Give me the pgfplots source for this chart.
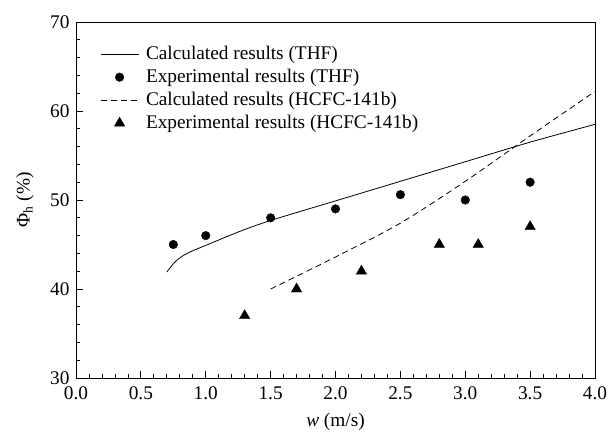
\documentclass[border=0pt]{standalone}
\usepackage{pgfplots}
\pgfplotsset{compat=1.18}
\usepackage{fontspec}
\setmainfont{Liberation Serif}
\newcommand{\bigf}{\fontsize{19.3}{23}\selectfont}
\begin{document}
\begin{tikzpicture}
\begin{axis}[
  width=519pt, height=356pt, scale only axis,
  xmin=0, xmax=4, ymin=30, ymax=70,
  xtick={0,0.5,...,4}, ytick={30,40,...,70},
  minor x tick num=4, minor y tick num=4,
  tick pos=left, tick align=inside,
  major tick length=7pt, minor tick length=4pt,
  axis line style={line width=0.8pt},
  every tick/.style={line width=0.8pt, black},
  /pgf/number format/assume math mode=true,
  tick label style={font=\bigf},
  xticklabel style={yshift=-5pt, /pgf/number format/.cd, fixed, fixed zerofill, precision=1},
  yticklabel style={xshift=-3pt, /pgf/number format/.cd, fixed, precision=0},
  xlabel={\textit{w} (m/s)},
  ylabel={Φ\textsubscript{h} (\%)},
  every axis x label/.style={at={(axis description cs:0.5,-0.1236)}, anchor=center, font=\bigf},
  every axis y label/.style={at={(axis description cs:-0.0983,0.5)}, anchor=center, rotate=90, font=\bigf},
  legend cell align=left,
  legend style={at={(axis description cs:0,1)}, anchor=north west, xshift=24pt, yshift=-23pt,
    draw=none, fill=none, inner sep=0pt, row sep=5pt, font=\bigf,
    nodes={inner sep=0pt, text height=14pt, text depth=4pt},
    /tikz/every odd column/.append style={column sep=7pt}},
]
\addplot[black, line width=0.8pt, smooth,
  legend image code/.code={\draw[black, line width=0.8pt] (0pt,0pt) -- (38pt,0pt);}]
  coordinates {(0.70,41.9) (0.76,43.0) (0.82,43.7) (0.90,44.3) (1.0,44.9) (1.25,46.4) (1.5,47.7) (2.0,49.9) (2.5,52.1) (3.0,54.3) (3.5,56.5) (4.0,58.5)};
\addlegendentry{Calculated results (THF)}
\addplot[black, only marks, mark=*, mark size=4.3pt,
  legend image code/.code={\draw[black, fill=black] plot[mark=*, mark size=4.3pt] coordinates {(19pt,0pt)};}]
  coordinates {(0.75,45) (1.0,46) (1.5,48) (2.0,49) (2.5,50.6) (3.0,50) (3.5,52)};
\addlegendentry{Experimental results (THF)}
\addplot[black, line width=0.8pt, dash pattern=on 6pt off 4pt, smooth,
  legend image code/.code={\draw[black, line width=0.8pt, dash pattern=on 6pt off 4pt] (0pt,0pt) -- (38pt,0pt);}]
  coordinates {(1.5,40) (2.0,43.6) (2.5,47.4) (3.0,52.1) (3.5,57.2) (4.0,62.2)};
\addlegendentry{Calculated results (HCFC-141b)}
\addplot[black, only marks, mark=triangle*, mark size=6pt,
  legend image code/.code={\draw[black, fill=black] plot[mark=triangle*, mark size=6pt] coordinates {(19pt,0pt)};}]
  coordinates {(1.3,37) (1.7,40) (2.2,42) (2.8,45) (3.1,45) (3.5,47)};
\addlegendentry{Experimental results (HCFC-141b)}
\end{axis}
\pgfresetboundingbox
\path ([shift={(-76pt,-56pt)}]current axis.south west) rectangle ([shift={(13pt,22pt)}]current axis.north east);
\end{tikzpicture}
\end{document}
